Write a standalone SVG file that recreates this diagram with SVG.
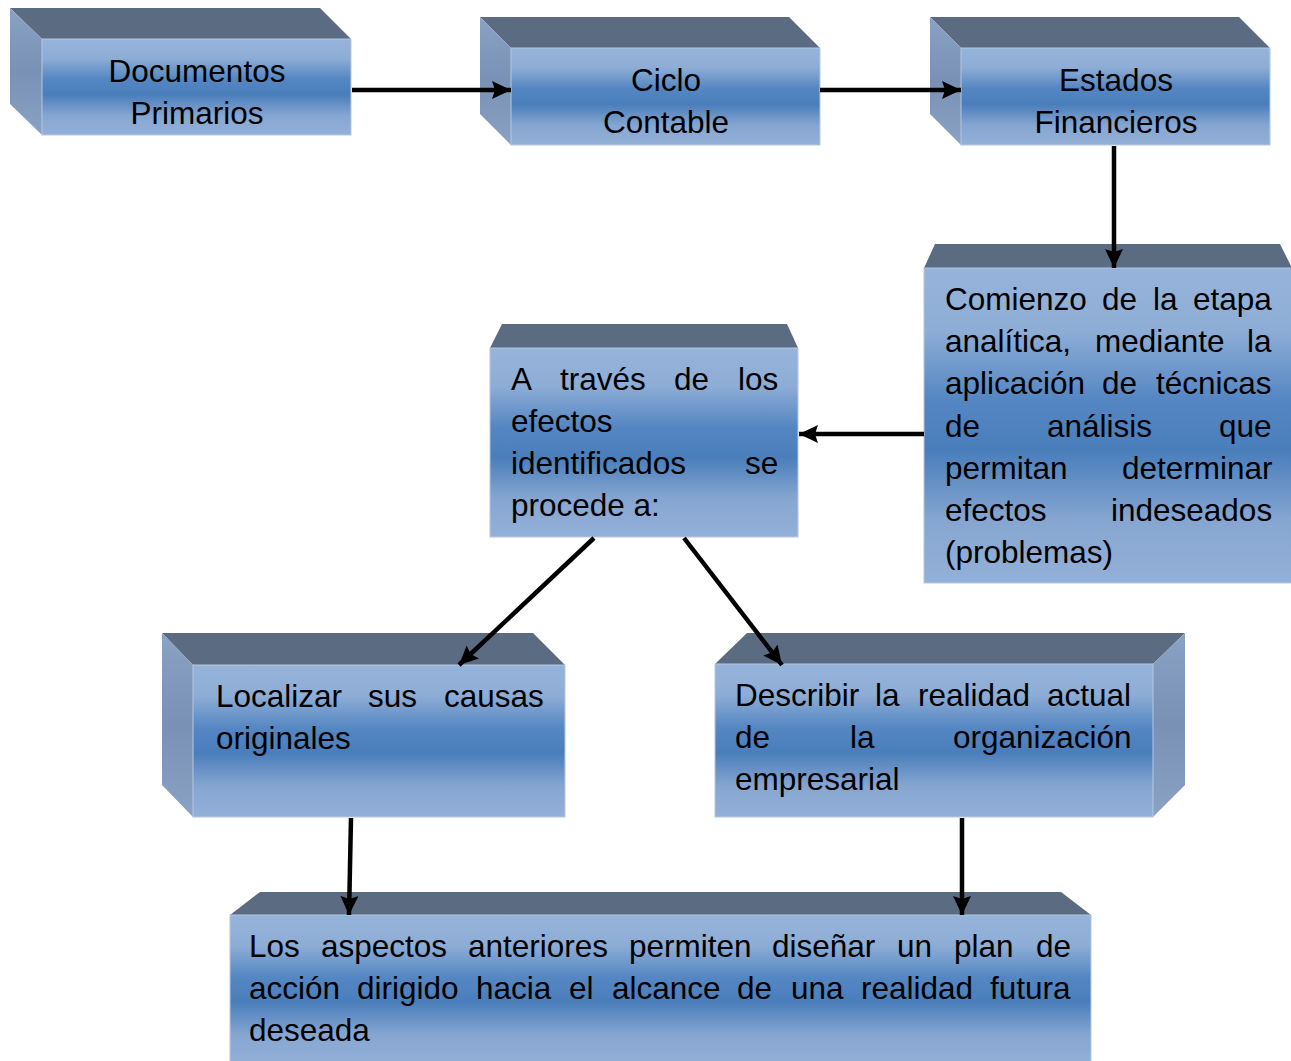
<svg xmlns="http://www.w3.org/2000/svg" width="1291" height="1061" viewBox="0 0 1291 1061">
  <defs>
    <!-- front face: light top and bottom, saturated blue band in the middle -->
    <linearGradient id="front" x1="0" y1="0" x2="0" y2="1">
      <stop offset="0" stop-color="#96b4da"/>
      <stop offset="0.2" stop-color="#8eadd6"/>
      <stop offset="0.42" stop-color="#5486c2"/>
      <stop offset="0.58" stop-color="#4a7ebb"/>
      <stop offset="0.8" stop-color="#86a6d1"/>
      <stop offset="1" stop-color="#93b0d8"/>
    </linearGradient>
    <linearGradient id="side" x1="0" y1="0" x2="0" y2="1">
      <stop offset="0" stop-color="#8aa2c4"/>
      <stop offset="0.5" stop-color="#7891b4"/>
      <stop offset="1" stop-color="#8aa2c4"/>
    </linearGradient>
    <marker id="arrow" markerUnits="userSpaceOnUse" markerWidth="20" markerHeight="20" refX="19" refY="9" orient="auto">
      <path d="M0,0 L19,9 L0,18 L3,9 z" fill="#000"/>
    </marker>
  </defs>
  <style>
    .top { fill: #5a6b82; }
    .side { fill: url(#side); }
    .front { fill: url(#front); stroke: #b4c8e2; stroke-width: 1; }
    text { font-family: "Liberation Sans", Arial, sans-serif; font-size: 31.5px; fill: #000; }
    .c { text-anchor: middle; }
    .link { stroke: #000; stroke-width: 4.5; fill: none; marker-end: url(#arrow); }
  </style>

  <rect width="1291" height="1061" fill="#fff"/>

  <!-- Documentos Primarios -->
  <g id="documentos">
    <polygon class="top" points="10,8 320,8 351,39 42,39"/>
    <polygon class="side" points="10,8 42,39 42,135 10,104"/>
    <rect class="front" x="42" y="39" width="309" height="96"/>
    <text class="c" x="197" y="82">Documentos</text>
    <text class="c" x="197" y="124">Primarios</text>
  </g>

  <!-- Ciclo Contable -->
  <g id="ciclo">
    <polygon class="top" points="480,17 789,17 820,48 511,48"/>
    <polygon class="side" points="480,17 511,48 511,145 480,114"/>
    <rect class="front" x="511" y="48" width="309" height="97"/>
    <text class="c" x="666" y="91">Ciclo</text>
    <text class="c" x="666" y="133">Contable</text>
  </g>

  <!-- Estados Financieros -->
  <g id="estados">
    <polygon class="top" points="930,17 1239,17 1270,48 961,48"/>
    <polygon class="side" points="930,17 961,48 961,145 930,114"/>
    <rect class="front" x="961" y="48" width="309" height="97"/>
    <text class="c" x="1116" y="91">Estados</text>
    <text class="c" x="1116" y="133">Financieros</text>
  </g>

  <!-- Comienzo de la etapa analítica -->
  <g id="comienzo">
    <polygon class="top" points="924,268 935,244 1280,244 1292,268"/>
    <rect class="front" x="924" y="268" width="368" height="315"/>
    <text y="310"><tspan x="945">Comienzo</tspan><tspan x="1102">de</tspan><tspan x="1153">la</tspan><tspan x="1193">etapa</tspan></text>
    <text y="352"><tspan x="945">analítica,</tspan><tspan x="1095">mediante</tspan><tspan x="1247">la</tspan></text>
    <text y="394"><tspan x="945">aplicación</tspan><tspan x="1102">de</tspan><tspan x="1156">técnicas</tspan></text>
    <text y="437"><tspan x="945">de</tspan><tspan x="1047">análisis</tspan><tspan x="1219">que</tspan></text>
    <text y="479"><tspan x="945">permitan</tspan><tspan x="1122">determinar</tspan></text>
    <text y="521"><tspan x="945">efectos</tspan><tspan x="1111">indeseados</tspan></text>
    <text x="945" y="563">(problemas)</text>
  </g>

  <!-- A través de los efectos identificados -->
  <g id="atraves">
    <polygon class="top" points="490,348 502,324 787,324 798,348"/>
    <rect class="front" x="490" y="348" width="308" height="189"/>
    <text y="390"><tspan x="511">A</tspan><tspan x="560">través</tspan><tspan x="674">de</tspan><tspan x="738">los</tspan></text>
    <text x="511" y="432">efectos</text>
    <text y="474"><tspan x="511">identificados</tspan><tspan x="745">se</tspan></text>
    <text x="511" y="516">procede a:</text>
  </g>

  <!-- Localizar sus causas originales -->
  <g id="localizar">
    <polygon class="top" points="162,633 533,633 565,665 193,665"/>
    <polygon class="side" points="162,633 193,665 193,817 162,785"/>
    <rect class="front" x="193" y="665" width="372" height="152"/>
    <text y="707"><tspan x="216">Localizar</tspan><tspan x="368">sus</tspan><tspan x="444">causas</tspan></text>
    <text x="216" y="749">originales</text>
  </g>

  <!-- Describir la realidad actual -->
  <g id="describir">
    <polygon class="top" points="747,633 1185,633 1153,664 715,664"/>
    <polygon class="side" points="1153,664 1185,633 1185,785 1153,817"/>
    <rect class="front" x="715" y="664" width="438" height="153"/>
    <text y="706"><tspan x="735">Describir</tspan><tspan x="875">la</tspan><tspan x="918">realidad</tspan><tspan x="1047">actual</tspan></text>
    <text y="748"><tspan x="735">de</tspan><tspan x="850">la</tspan><tspan x="953">organización</tspan></text>
    <text x="735" y="790">empresarial</text>
  </g>

  <!-- Los aspectos anteriores... -->
  <g id="plan">
    <polygon class="top" points="230,915 260,892 1061,892 1091,915"/>
    <rect class="front" x="230" y="915" width="861" height="150"/>
    <text y="957"><tspan x="249">Los</tspan><tspan x="321">aspectos</tspan><tspan x="468">anteriores</tspan><tspan x="629">permiten</tspan><tspan x="772">diseñar</tspan><tspan x="897">un</tspan><tspan x="954">plan</tspan><tspan x="1036">de</tspan></text>
    <text y="999"><tspan x="249">acción</tspan><tspan x="357">dirigido</tspan><tspan x="476">hacia</tspan><tspan x="569">el</tspan><tspan x="612">alcance</tspan><tspan x="737">de</tspan><tspan x="791">una</tspan><tspan x="861">realidad</tspan><tspan x="990">futura</tspan></text>
    <text x="249" y="1041">deseada</text>
  </g>

  <!-- connectors, drawn over the boxes -->
  <g id="connectors">
    <line class="link" x1="352" y1="90" x2="511" y2="90"/>
    <line class="link" x1="820" y1="90" x2="961" y2="90"/>
    <line class="link" x1="1114" y1="146" x2="1114" y2="268"/>
    <line class="link" x1="924" y1="434" x2="799" y2="434"/>
    <line class="link" x1="594" y1="538" x2="459" y2="665"/>
    <line class="link" x1="684" y1="538" x2="782" y2="665"/>
    <line class="link" x1="351" y1="818" x2="349" y2="915"/>
    <line class="link" x1="962" y1="818" x2="962" y2="915"/>
  </g>
</svg>
